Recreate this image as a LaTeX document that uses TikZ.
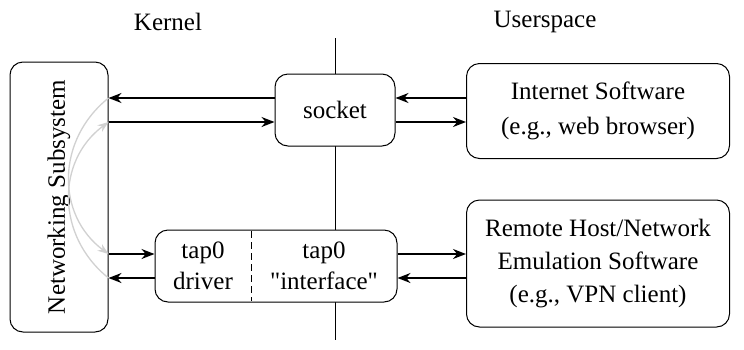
\documentclass[tikz,border=0pt]{standalone}
\usepackage{fontspec}
\setmainfont{Liberation Serif}[Ligatures=TeXOff]
\usetikzlibrary{arrows.meta}
\begin{document}
\begin{tikzpicture}[x=1pt,y=-1pt,
  box/.style={draw, line width=1pt, rounded corners=13pt, fill=white, align=center, inner sep=0pt},
  arr/.style={line width=1.6pt, -{Stealth[length=13pt,width=10pt]}},
  flow/.style={line width=1.3pt, draw=black!18, -{Stealth[length=11pt,width=8pt]}},
  every node/.append style={font=\fontsize{25}{35}\selectfont}]
\useasboundingbox (0,0) rectangle (744,349);
\coordinate (vtop) at (335,38);
\coordinate (vbot) at (335,340);
\draw[line width=0.8pt] (vtop) -- (vbot);
\node (kern) at (168,22) {Kernel};
\node (user) at (545,22) {Userspace};
\node[box, minimum width=98pt, minimum height=270pt] (net) at (59,197) {};
\node[rotate=90] (nettxt) at (net.center) {Networking Subsystem};
\node[box, minimum width=120pt, minimum height=72pt] (sock) at (335,110) {socket};
\node[box, minimum width=263pt, minimum height=95pt] (inet) at (598,111) {Internet Software\\(e.g., web browser)};
\node[box, minimum width=242pt, minimum height=72pt] (tap) at (276,266) {};
\coordinate (dtop) at (251,231);
\coordinate (dbot) at (251,301);
\draw[line width=0.8pt, dash pattern=on 7pt off 4pt] (dtop) -- (dbot);
\node[align=center, font=\fontsize{25}{31}\selectfont] (drv) at (203,266) {tap0\\driver};
\node[align=center, font=\fontsize{25}{31}\selectfont] (ifc) at (324,266) {tap0\\"interface"};
\node[box, minimum width=263pt, minimum height=127pt, font=\fontsize{25}{33}\selectfont] (rem) at (598,263.5) {Remote Host/Network\\Emulation Software\\(e.g., VPN client)};
% arrows
\draw[arr] (sock.west |- 0,98) -- (net.east |- 0,98);
\draw[arr] (net.east |- 0,122) -- (sock.west |- 0,122);
\draw[arr] (inet.west |- 0,98) -- (sock.east |- 0,98);
\draw[arr] (sock.east |- 0,122) -- (inet.west |- 0,122);
\draw[arr] (net.east |- 0,254) -- (tap.west |- 0,254);
\draw[arr] (tap.west |- 0,278) -- (net.east |- 0,278);
\draw[arr] (tap.east |- 0,254) -- (rem.west |- 0,254);
\draw[arr] (rem.west |- 0,278) -- (tap.east |- 0,278);
% flows
\draw[flow] (net.east |- 0,98) .. controls (56,140) and (56,215) .. (net.east |- 0,254);
\draw[flow] (net.east |- 0,278) .. controls (56,236) and (56,161) .. (net.east |- 0,122);
\end{tikzpicture}
\end{document}
